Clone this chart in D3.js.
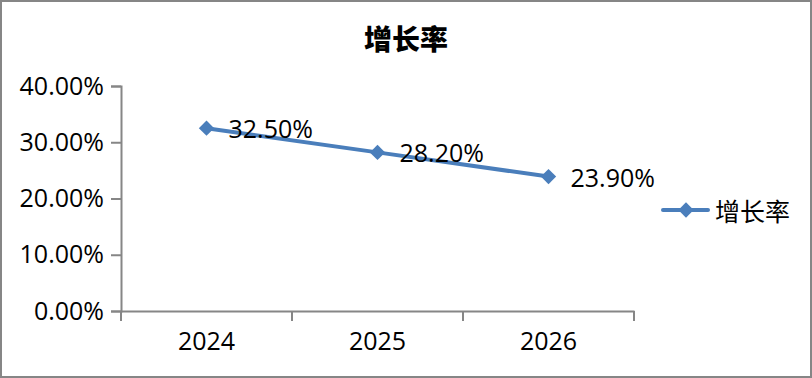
<!DOCTYPE html>
<meta charset="utf-8">
<script src="https://d3js.org/d3.v7.min.js"></script>
<style>
  body { margin: 0; }
  text { font-family: "Open Sans", "Noto Sans CJK SC", sans-serif; fill: #000; }
</style>
<body>
<div id="chart"></div>
<script>
  // data
  var years = ["2024", "2025", "2026"]
  var growth = [0.325, 0.282, 0.239]
  var yTicks = [0, 0.1, 0.2, 0.3, 0.4]
  var seriesName = "增长率"

  var width = 812, height = 378
  var plot = {left: 121, right: 634, top: 86, bottom: 311}

  var svg = d3.select("#chart").append("svg")
    .attr("width", width)
    .attr("height", height)

  // outer frame
  svg.append("rect")
    .attr("x", 1).attr("y", 1)
    .attr("width", width - 2).attr("height", height - 2)
    .attr("fill", "#fff")
    .attr("stroke", "#868686")
    .attr("stroke-width", 2)

  // title
  svg.append("text")
    .attr("x", 406).attr("y", 38)
    .attr("text-anchor", "middle")
    .attr("dominant-baseline", "central")
    .style("font-family", "'Noto Sans CJK SC', sans-serif")
    .style("font-weight", "900")
    .style("font-size", "28px")
    .text(seriesName)

  var x = d3.scaleBand().domain(years).range([plot.left, plot.right])
  var y = d3.scaleLinear().domain([0, 0.4]).range([plot.bottom, plot.top])
  var fmt = d3.format(".2%")

  // y axis
  var yAxis = svg.append("g")
    .attr("transform", "translate(" + plot.left + ",0)")
    .call(d3.axisLeft(y).tickValues(yTicks).tickFormat(fmt).tickSize(10).tickPadding(7))
  yAxis.select(".domain").attr("stroke", "#868686").attr("stroke-width", 2)
  yAxis.selectAll(".tick line").attr("stroke", "#868686").attr("stroke-width", 2)
  yAxis.selectAll("text").style("font-size", "25px").attr("fill", "#000")
    .style("font-family", "'Open Sans', sans-serif")

  // x axis, ticks on band edges
  var xAxis = svg.append("g")
    .attr("transform", "translate(0," + plot.bottom + ")")
    .call(d3.axisBottom(x).tickSize(0).tickPadding(21))
  xAxis.select(".domain").attr("stroke", "#868686").attr("stroke-width", 2)
  xAxis.selectAll("text").style("font-size", "25px").attr("fill", "#000")
    .style("font-family", "'Open Sans', sans-serif")
  var edges = years.map(function(d) { return x(d) }).concat([x.range()[1]])
  xAxis.selectAll(".edge").data(edges).enter().append("line")
    .attr("x1", function(d) { return d }).attr("x2", function(d) { return d })
    .attr("y1", 0).attr("y2", 10)
    .attr("stroke", "#868686").attr("stroke-width", 2)

  var color = "#4a7ebb"
  var pts = years.map(function(d, i) { return {year: d, v: growth[i]} })

  var line = d3.line()
    .x(function(d) { return x(d.year) + x.bandwidth() / 2 })
    .y(function(d) { return y(d.v) })

  svg.append("path")
    .datum(pts)
    .attr("d", line)
    .attr("fill", "none")
    .attr("stroke", color)
    .attr("stroke-width", 4)
    .attr("stroke-linecap", "round")

  var diamond = d3.symbol().type(d3.symbolDiamond2).size(150)

  svg.selectAll(".marker").data(pts).enter().append("path")
    .attr("d", diamond)
    .attr("transform", function(d) {
      return "translate(" + (x(d.year) + x.bandwidth() / 2) + "," + y(d.v) + ")" })
    .attr("fill", color)

  svg.selectAll(".lbl").data(pts).enter().append("text")
    .attr("x", function(d) { return x(d.year) + x.bandwidth() / 2 + 22 })
    .attr("y", function(d) { return y(d.v) })
    .attr("dominant-baseline", "central")
    .style("font-size", "25px")
    .text(function(d) { return fmt(d.v) })

  // legend
  var lg = svg.append("g").attr("transform", "translate(663,210)")
  lg.append("line").attr("x1", 0).attr("x2", 45).attr("y1", 0).attr("y2", 0)
    .attr("stroke", color).attr("stroke-width", 4).attr("stroke-linecap", "round")
  lg.append("path").attr("d", diamond).attr("transform", "translate(23,0)").attr("fill", color)
  lg.append("text").attr("x", 52).attr("y", 0)
    .attr("dominant-baseline", "central")
    .style("font-family", "'Noto Sans CJK SC', sans-serif")
    .style("font-size", "25px")
    .text(seriesName)
</script>
</body>
